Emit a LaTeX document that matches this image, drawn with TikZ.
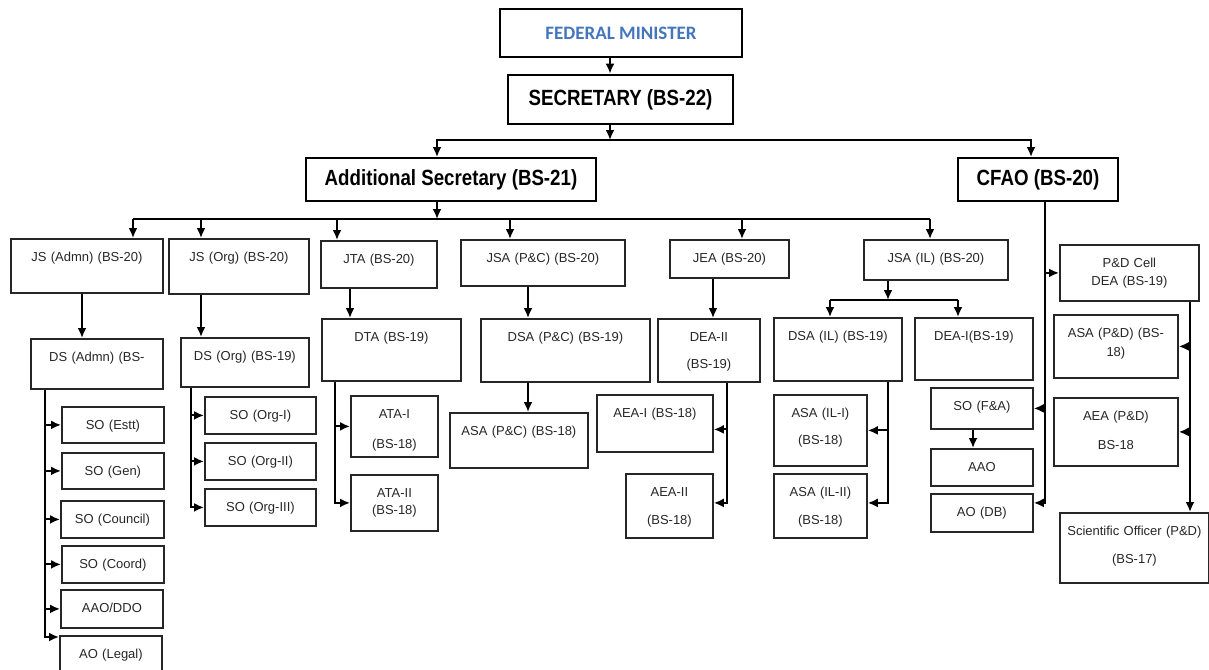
\documentclass[tikz,border=0pt]{standalone}
\usepackage{fontspec}
\setmainfont{Liberation Sans}
\newfontfamily\narrowfont[FakeStretch=0.85]{Liberation Sans}
\newfontfamily\calfont{Carlito}
\usetikzlibrary{arrows.meta,positioning}
\definecolor{ministerblue}{RGB}{68,118,190}

\tikzset{
  orgbox/.style={draw=black!85, line width=1.8pt, anchor=north west, inner sep=0pt,
    text height=23pt, align=center, text=black!85, font=\fontsize{13}{17}\selectfont},
  topbox/.style={draw=black, line width=2pt, inner sep=0pt,
    font=\narrowfont\bfseries\fontsize{22}{26}\selectfont},
  link/.style={line width=1.9pt, ->}
}

% box from (x1,y1) to (x2,y2), first baseline 23 below the top
\newcommand{\orgnode}[6]{%
  \pgfmathsetmacro{\boxw}{#4-#2}%
  \pgfmathsetmacro{\boxd}{#5-#3-23}%
  \node[orgbox, text width=\boxw pt, text depth=\boxd pt] (#1) at (#2,#3) {#6};}

\begin{document}
\begin{tikzpicture}[x=1pt, y=-1pt, >={Latex[length=10pt,width=9pt]}]
\useasboundingbox (0,0) rectangle (1209,669);

% Top of the chart
\node[topbox, line width=2.8pt, minimum width=242pt, minimum height=48pt,
  font=\calfont\bfseries\fontsize{19}{22}\selectfont, text=ministerblue] (fm) at (621,33) {FEDERAL MINISTER};
\node[topbox, line width=2.8pt, minimum width=225pt, minimum height=49pt] (sec) at (620.5,99.5) {SECRETARY (BS-22)};
\node[topbox, minimum width=290pt, minimum height=43pt] (addsec) at (451,179.5) {Additional Secretary (BS-21)};
\node[topbox, minimum width=160pt, minimum height=43pt] (cfao) at (1038,179.5) {CFAO (BS-20)};

% Joint secretaries
\orgnode{jsadmn}{10}{238}{162}{292}{JS (Admn) (BS-20)}
\orgnode{jsorg}{168}{238}{308}{293}{JS (Org) (BS-20)}
\orgnode{jta}{320}{240}{436}{287}{JTA (BS-20)}
\orgnode{jsapc}{460}{239}{624}{285}{JSA (P\&C) (BS-20)}
\orgnode{jea}{669}{239}{788}{277}{JEA (BS-20)}
\orgnode{jsail}{863}{239}{1007}{279}{JSA (IL) (BS-20)}

% Deputy level
\orgnode{dsadmn}{30}{338}{162}{388}{DS (Admn) (BS-}
\orgnode{dsorg}{180}{337}{308}{386}{DS (Org) (BS-19)}
\orgnode{dta}{321}{318}{460}{380}{DTA (BS-19)}
\orgnode{dsapc}{480}{318}{649}{381}{DSA (P\&C) (BS-19)}
\orgnode{deaii}{657}{318}{759}{381}{DEA-II\\[10pt](BS-19)}
\orgnode{dsail}{773}{317}{901}{380}{DSA (IL) (BS-19)}
\orgnode{deai}{914}{317}{1032}{379}{DEA-I(BS-19)}

% Section officers
\orgnode{soestt}{61}{406}{163}{442}{SO (Estt)}
\orgnode{sogen}{61}{452}{163}{488}{SO (Gen)}
\orgnode{socouncil}{60}{500}{163}{537}{SO (Council)}
\orgnode{socoord}{61}{545}{163}{582}{SO (Coord)}
\orgnode{aaoddo}{60}{589}{162}{627}{AAO/DDO}
\orgnode{aolegal}{59}{635}{161}{690}{AO (Legal)}
\orgnode{soorgi}{204}{396}{315}{433}{SO (Org-I)}
\orgnode{soorgii}{204}{442}{315}{479}{SO (Org-II)}
\orgnode{soorgiii}{204}{488}{315}{525}{SO (Org-III)}
\orgnode{atai}{350}{395}{437}{456}{ATA-I\\[13pt](BS-18)}
\orgnode{ataii}{350}{474}{437}{530}{ATA-II\\(BS-18)}
\orgnode{asapc}{449}{412}{587}{467}{ASA (P\&C) (BS-18)}
\orgnode{aeai}{596}{394}{712}{451}{AEA-I (BS-18)}
\orgnode{aeaii}{625}{473}{712}{537}{AEA-II\\[11pt](BS-18)}
\orgnode{asaili}{773}{394}{866}{465}{ASA (IL-I)\\[10pt](BS-18)}
\orgnode{asailii}{773}{473}{866}{537}{ASA (IL-II)\\[11pt](BS-18)}
\orgnode{sofa}{930}{387}{1032}{428}{SO (F\&A)}
\orgnode{aao}{930}{448}{1032}{485}{AAO}
\orgnode{aodb}{930}{493}{1032}{531}{AO (DB)}

% P&D cell
\orgnode{pdcell}{1059}{244}{1198}{300}{P\&D Cell\hspace*{30pt}\\[1pt]DEA (BS-19)}
\orgnode{asapd}{1053}{314}{1177}{377}{ASA (P\&D) (BS-\\[2pt]18)}
\orgnode{aeapd}{1053}{397}{1177}{465}{AEA (P\&D)\\[12pt]BS-18}
\orgnode{sciof}{1059}{512}{1208}{582}{Scientific Officer (P\&D)\\[11pt](BS-17)}

% Bus lines
\coordinate (bus1) at (610,140);
\coordinate (bus2) at (437,219);
\coordinate (bus3) at (888,300);

\draw[link] (fm.south -| 610,0) -- (sec.north -| 610,0);
\draw[link] (sec.south -| bus1) -- (bus1);
\draw[link] (bus1) -| (addsec.north -| 437,0);
\draw[link] (bus1) -| (cfao.north -| 1031,0);

\draw[link] (addsec.south -| bus2) -- (bus2);
\draw[line width=1.9pt] (bus2 -| 133,0) -- (bus2 -| 930,0);
\foreach \nm/\xx in {jsadmn/133, jsorg/201, jta/337, jsapc/510, jea/742, jsail/930}
  \draw[link] (bus2 -| \xx,0) -- (\nm.north -| \xx,0);

\draw[link] (jsail.south -| bus3) -- (bus3);
\draw[line width=1.9pt] (bus3 -| 830,0) -- (bus3 -| 958,0);
\draw[link] (bus3 -| 830,0) -- (dsail.north -| 830,0);
\draw[link] (bus3 -| 958,0) -- (deai.north -| 958,0);

% Straight drops
\foreach \up/\dn/\xx in {jsadmn/dsadmn/82, jsorg/dsorg/201, jta/dta/350, jsapc/dsapc/528, jea/deaii/713, dsapc/asapc/528, sofa/aao/973}
  \draw[link] (\up.south -| \xx,0) -- (\dn.north -| \xx,0);

% Side branches
\draw[link] (dsadmn.south -| 45,0) |- ([yshift=-2pt]aolegal.north west);
\foreach \nm in {soestt, sogen, socouncil, socoord, aaoddo}
  \draw[link] (\nm.west -| 45,0) -- (\nm.west);

\draw[link] (dsorg.south -| 191,0) |- (soorgiii.west);
\foreach \nm in {soorgi, soorgii}
  \draw[link] (\nm.west -| 191,0) -- (\nm.west);

\draw[link] (dta.south -| 335,0) |- (ataii.west);
\draw[link] (atai.west -| 335,0) -- (atai.west);

\draw[link] (deaii.south -| 727,0) |- ([yshift=3pt]aeaii.east);
\draw[link] ([yshift=-6pt]aeai.east -| 727,0) -- ([yshift=-6pt]aeai.east);

\draw[link] (dsail.south -| 888,0) |- ([yshift=3pt]asailii.east);
\draw[link] (asaili.east -| 888,0) -- (asaili.east);

\draw[link] (cfao.south -| 1045,0) |- ([yshift=10pt]aodb.east);
\draw[link] (pdcell.west -| 1045,0) -- (pdcell.west);
\draw[link] (sofa.east -| 1045,0) -- (sofa.east);

\draw[link] (pdcell.south -| 1190,0) -- (sciof.north -| 1190,0);
\foreach \nm in {asapd, aeapd}
  \draw[link] (\nm.east -| 1190,0) -- (\nm.east);

\end{tikzpicture}
\end{document}
